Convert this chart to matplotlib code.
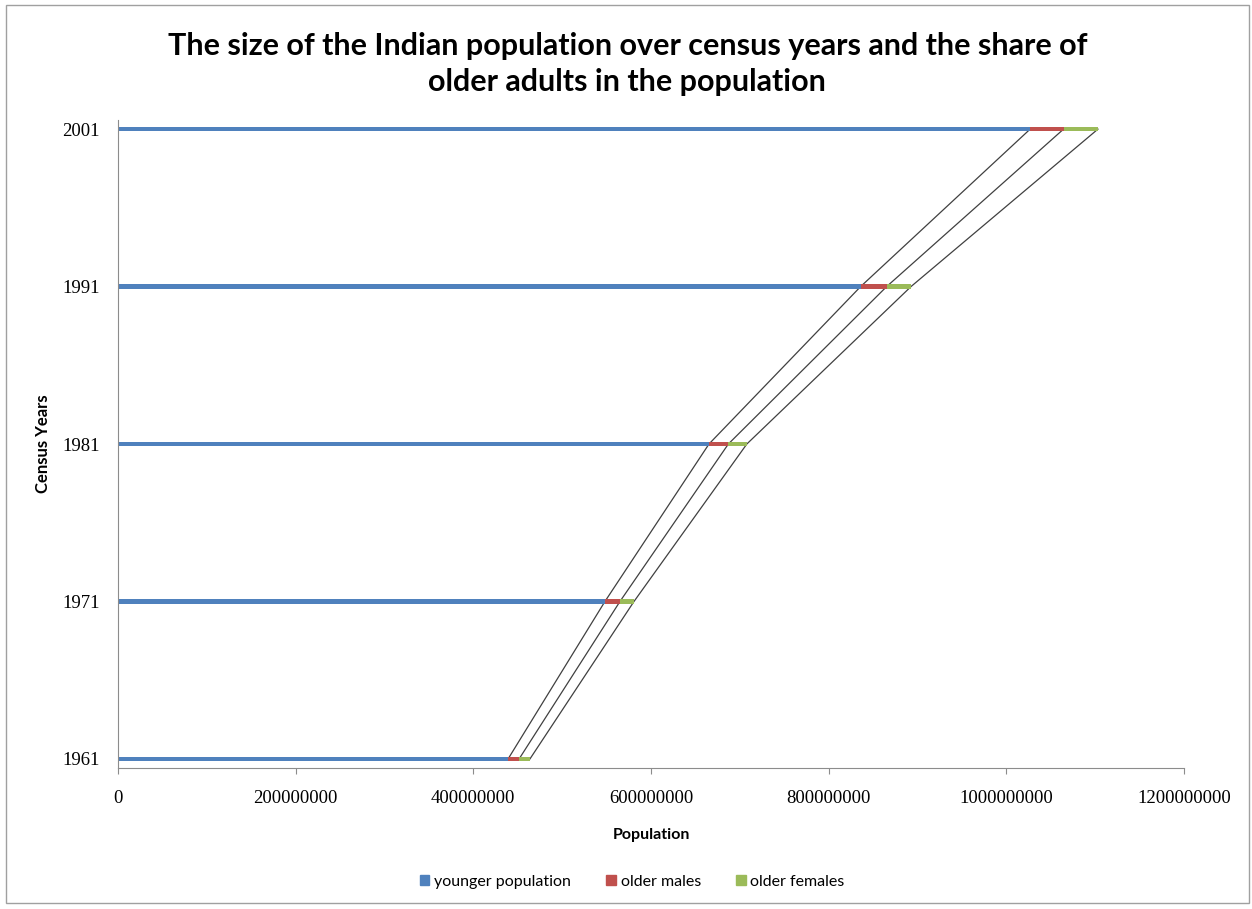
#!/usr/bin/env python
# encoding: utf-8

import numpy as np
import matplotlib
matplotlib.use('Agg')
import matplotlib.pyplot as plt
from matplotlib.patches import Rectangle, Patch

years = ['1961', '1971', '1981', '1991', '2001']
younger = [439.2e6, 548.2e6, 665.3e6, 836.0e6, 1026.8e6]
older_males = [12.4e6, 16.9e6, 21.8e6, 29.3e6, 37.6e6]
older_females = [12.2e6, 15.8e6, 20.8e6, 27.4e6, 38.7e6]

blue = '#4F81BD'
red = '#C0504D'
green = '#9BBB59'

fig = plt.figure(figsize=(12.52, 9.09), dpi=100)
ax = fig.add_axes([0.0942, 0.1551, 0.8515, 0.7129])

y = np.arange(len(years))
h = 0.028
ends1 = np.array(younger)
ends2 = ends1 + np.array(older_males)
ends3 = ends2 + np.array(older_females)

# series lines between the bars
for e in (ends1, ends2, ends3):
    ax.plot(e, y, color='#404040', lw=0.9, zorder=1)

ax.barh(y, younger, height=h, color=blue, zorder=2)
ax.barh(y, older_males, left=ends1, height=h, color=red, zorder=2)
ax.barh(y, older_females, left=ends2, height=h, color=green, zorder=2)

ax.set_xlim(0, 1.2e9)
ax.set_ylim(-0.058, 4.058)
ax.set_xticks(np.arange(0, 1.21e9, 2e8))
ax.set_xticklabels(['%d' % v for v in np.arange(0, 1.21e9, 2e8)],
                   family='Liberation Serif', fontsize=13.5)
ax.set_yticks(y)
ax.set_yticklabels(years, family='Liberation Serif', fontsize=13.5)

for s in ('top', 'right'):
    ax.spines[s].set_visible(False)
for s in ('left', 'bottom'):
    ax.spines[s].set_color('#8c8c8c')
ax.tick_params(axis='x', length=4, color='#8c8c8c', pad=12)
ax.tick_params(axis='y', length=0, pad=13)

ax.set_xlabel('Population', family='Lato', fontweight='bold', fontsize=11.5, labelpad=15)
ax.set_ylabel('Census Years', family='Lato', fontweight='bold', fontsize=12, labelpad=8)

fig.text(0.501, 1 - 64 / 909.,
         'The size of the Indian population over census years and the share of\n'
         'older adults in the population',
         ha='center', va='center', family='Lato', fontweight='bold',
         fontsize=22, linespacing=1.35)

handles = [Patch(color=blue), Patch(color=red), Patch(color=green)]
fig.legend(handles, ['younger population', 'older males', 'older females'],
           loc='center', bbox_to_anchor=(0.505, 1 - 882 / 909.), ncol=3,
           frameon=False, prop={'family': 'Lato', 'size': 11.5},
           handlelength=0.6, handleheight=0.6, handletextpad=0.3, columnspacing=2.2)

fig.patches.append(Rectangle((6 / 1252., 1 - 903 / 909.), 1243 / 1252., 898 / 909.,
                             transform=fig.transFigure, fill=False,
                             edgecolor='#a0a0a0', lw=1))

fig.savefig('out.png', dpi=100)
